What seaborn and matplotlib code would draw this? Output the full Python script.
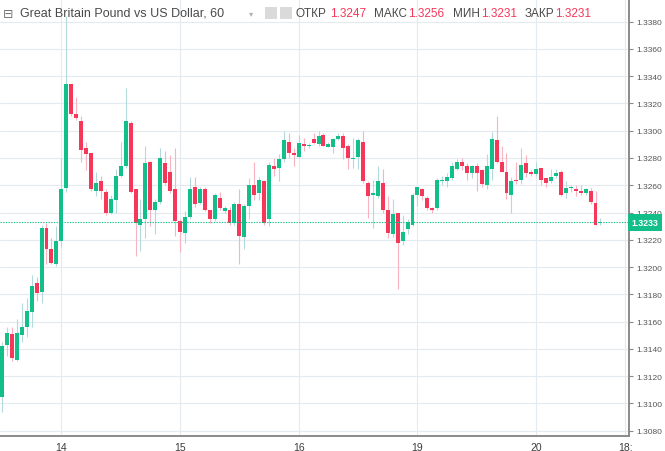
import matplotlib
matplotlib.use("Agg")
import matplotlib.pyplot as plt
import seaborn as sns
import numpy as np
from matplotlib.patches import Rectangle

sns.set_style("white")
plt.rcParams['font.family'] = ['Liberation Sans', 'DejaVu Sans']

# --- hourly GBP/USD candles ---
opens = [1.3105, 1.3143, 1.3151, 1.3132, 1.3150, 1.3156, 1.3167, 1.3188, 1.3182, 1.3229,
         1.3213, 1.3202, 1.3219, 1.3258, 1.3334, 1.3312, 1.3307, 1.3287, 1.3284, 1.3256,
         1.3263, 1.3255, 1.3240, 1.3249, 1.3267, 1.3274, 1.3306, 1.3257, 1.3231, 1.3235,
         1.3277, 1.3242, 1.3248, 1.3276, 1.3270, 1.3257, 1.3234, 1.3225, 1.3237, 1.3259,
         1.3247, 1.3257, 1.3242, 1.3235, 1.3251, 1.3241, 1.3242, 1.3232, 1.3246, 1.3222,
         1.3245, 1.3260, 1.3254, 1.3263, 1.3235, 1.3274, 1.3273, 1.3279, 1.3292, 1.3284,
         1.3281, 1.3290, 1.3289, 1.3294, 1.3290, 1.3297, 1.3288, 1.3288, 1.3294, 1.3296,
         1.3289, 1.3279, 1.3281, 1.3292, 1.3262, 1.3253, 1.3252, 1.3262, 1.3242, 1.3224,
         1.3240, 1.3219, 1.3228, 1.3231, 1.3253, 1.3257, 1.3251, 1.3243, 1.3243, 1.3263,
         1.3263, 1.3265, 1.3272, 1.3277, 1.3274, 1.3269, 1.3274, 1.3271, 1.3260, 1.3272,
         1.3293, 1.3277, 1.3270, 1.3253, 1.3264, 1.3264, 1.3276, 1.3270, 1.3268, 1.3273,
         1.3265, 1.3263, 1.3267, 1.3270, 1.3254, 1.3258, 1.3257, 1.3256, 1.3254, 1.3256,
         1.3247, 1.3232]
highs = [1.3145, 1.3156, 1.3156, 1.3162, 1.3174, 1.3177, 1.3194, 1.3193, 1.3231, 1.3232,
         1.3221, 1.3230, 1.3280, 1.3384, 1.3334, 1.3325, 1.3311, 1.3292, 1.3284, 1.3270,
         1.3267, 1.3257, 1.3253, 1.3272, 1.3292, 1.3331, 1.3307, 1.3257, 1.3250, 1.3289,
         1.3278, 1.3250, 1.3287, 1.3285, 1.3282, 1.3287, 1.3235, 1.3241, 1.3266, 1.3266,
         1.3259, 1.3259, 1.3242, 1.3254, 1.3255, 1.3245, 1.3244, 1.3248, 1.3257, 1.3246,
         1.3265, 1.3277, 1.3266, 1.3264, 1.3277, 1.3280, 1.3283, 1.3300, 1.3298, 1.3287,
         1.3297, 1.3295, 1.3291, 1.3298, 1.3300, 1.3298, 1.3292, 1.3295, 1.3298, 1.3298,
         1.3290, 1.3295, 1.3295, 1.3300, 1.3263, 1.3264, 1.3274, 1.3272, 1.3252, 1.3250,
         1.3240, 1.3238, 1.3235, 1.3254, 1.3259, 1.3258, 1.3252, 1.3244, 1.3265, 1.3267,
         1.3269, 1.3277, 1.3279, 1.3280, 1.3276, 1.3275, 1.3276, 1.3272, 1.3283, 1.3299,
         1.3311, 1.3289, 1.3284, 1.3266, 1.3277, 1.3287, 1.3282, 1.3271, 1.3277, 1.3273,
         1.3265, 1.3272, 1.3272, 1.3271, 1.3263, 1.3260, 1.3260, 1.3260, 1.3258, 1.3258,
         1.3256, 1.3236]
lows = [1.3094, 1.3135, 1.3131, 1.3131, 1.3145, 1.3149, 1.3156, 1.3175, 1.3174, 1.3202,
        1.3202, 1.3201, 1.3215, 1.3255, 1.3311, 1.3308, 1.3277, 1.3271, 1.3256, 1.3252,
        1.3250, 1.3238, 1.3239, 1.3240, 1.3266, 1.3273, 1.3254, 1.3208, 1.3212, 1.3221,
        1.3230, 1.3224, 1.3246, 1.3260, 1.3254, 1.3223, 1.3211, 1.3218, 1.3235, 1.3244,
        1.3246, 1.3241, 1.3232, 1.3234, 1.3242, 1.3240, 1.3231, 1.3231, 1.3202, 1.3213,
        1.3235, 1.3249, 1.3249, 1.3231, 1.3230, 1.3267, 1.3263, 1.3277, 1.3280, 1.3274,
        1.3280, 1.3285, 1.3287, 1.3290, 1.3289, 1.3289, 1.3288, 1.3284, 1.3293, 1.3279,
        1.3272, 1.3273, 1.3272, 1.3262, 1.3236, 1.3229, 1.3251, 1.3240, 1.3221, 1.3222,
        1.3184, 1.3216, 1.3224, 1.3230, 1.3245, 1.3249, 1.3242, 1.3240, 1.3242, 1.3260,
        1.3259, 1.3264, 1.3271, 1.3271, 1.3264, 1.3265, 1.3256, 1.3259, 1.3257, 1.3264,
        1.3276, 1.3270, 1.3250, 1.3240, 1.3261, 1.3261, 1.3266, 1.3267, 1.3267, 1.3260,
        1.3259, 1.3262, 1.3265, 1.3252, 1.3251, 1.3255, 1.3252, 1.3253, 1.3253, 1.3246,
        1.3231, 1.3231]
closes = [1.3142, 1.3152, 1.3133, 1.3152, 1.3156, 1.3168, 1.3186, 1.3181, 1.3229, 1.3213,
          1.3203, 1.3219, 1.3257, 1.3334, 1.3312, 1.3309, 1.3286, 1.3283, 1.3257, 1.3262,
          1.3256, 1.3240, 1.3250, 1.3267, 1.3274, 1.3307, 1.3255, 1.3232, 1.3235, 1.3276,
          1.3242, 1.3248, 1.3280, 1.3262, 1.3256, 1.3234, 1.3226, 1.3237, 1.3257, 1.3246,
          1.3257, 1.3242, 1.3235, 1.3253, 1.3243, 1.3243, 1.3232, 1.3246, 1.3223, 1.3245,
          1.3260, 1.3253, 1.3264, 1.3232, 1.3275, 1.3272, 1.3279, 1.3293, 1.3284, 1.3282,
          1.3291, 1.3289, 1.3289, 1.3291, 1.3296, 1.3289, 1.3290, 1.3294, 1.3296, 1.3287,
          1.3280, 1.3280, 1.3293, 1.3263, 1.3252, 1.3254, 1.3263, 1.3242, 1.3225, 1.3239,
          1.3218, 1.3226, 1.3233, 1.3253, 1.3259, 1.3252, 1.3243, 1.3242, 1.3264, 1.3264,
          1.3266, 1.3274, 1.3277, 1.3274, 1.3269, 1.3274, 1.3269, 1.3261, 1.3274, 1.3294,
          1.3277, 1.3270, 1.3254, 1.3263, 1.3263, 1.3275, 1.3269, 1.3268, 1.3272, 1.3264,
          1.3262, 1.3266, 1.3269, 1.3253, 1.3258, 1.3259, 1.3256, 1.3254, 1.3257, 1.3248,
          1.3231, 1.3233]

day_ticks = [12, 36, 60, 84, 108, 126]
day_labels = ['14', '15', '16', '19', '20', '18:']
price_ticks = [1.3080, 1.3100, 1.3120, 1.3140, 1.3160, 1.3180, 1.3200, 1.3220,
               1.3240, 1.3260, 1.3280, 1.3300, 1.3320, 1.3340, 1.3360, 1.3380]
last_price = 1.3233

title = 'Great Britain Pound vs US Dollar, 60'
ohlc_names = ['ОТКР', 'МАКС', 'МИН', 'ЗАКР']
ohlc_values = ['1.3247', '1.3256', '1.3231', '1.3231']

GREEN = '#12bf88'
RED = '#f5385a'
GREEN_WICK = '#b2d9dc'
RED_WICK = '#f7b3bf'
GRID = '#e4ebf0'
AXIS = '#8a8a8a'
TEXT = '#4a4a4a'

W, H = 665, 452
fig = plt.figure(figsize=(W / 100, H / 100), dpi=100)
ax = fig.add_axes([0, 15 / H, 629 / W, 437 / H])

idx = np.arange(len(opens))
o = np.array(opens)
c = np.array(closes)
up = c >= o
ax.vlines(idx, lows, highs, colors=np.where(up, GREEN_WICK, RED_WICK), linewidth=0.8, zorder=2)
ax.bar(idx, np.maximum(np.abs(c - o), 0.00005), bottom=np.minimum(o, c), width=0.8,
       color=np.where(up, GREEN, RED), linewidth=0, zorder=3)

ax.axhline(last_price, color=GREEN, linestyle=(0, (1.2, 1.2)), linewidth=0.8, zorder=4)

ax.set_xlim(-0.4, 126.77)
ax.set_ylim(1.30761, 1.33966)
ax.set_xticks(day_ticks)
ax.set_xticklabels(day_labels)
ax.set_yticks(price_ticks)
ax.set_yticklabels([f'{p:.4f}' for p in price_ticks])
ax.yaxis.tick_right()
ax.grid(True, color=GRID, linewidth=0.8, zorder=0)
ax.set_axisbelow(True)
for side in ['left', 'top']:
    ax.spines[side].set_visible(False)
for side in ['right', 'bottom']:
    ax.spines[side].set_color(AXIS)
    ax.spines[side].set_linewidth(1.4)
ax.tick_params(axis='y', direction='out', length=3, color=AXIS, labelsize=6,
               labelcolor='#555555', pad=2)
ax.tick_params(axis='x', direction='out', length=3, color=AXIS, labelsize=7.5,
               labelcolor='#3c3c3c', pad=1.5)

# last price tag on the price scale
ax.text(1.004, last_price, '1.3233', transform=ax.get_yaxis_transform(), ha='left',
        va='center', fontsize=6.3, color='white', fontweight='bold', clip_on=False,
        bbox=dict(boxstyle='square,pad=0.45', facecolor=GREEN, edgecolor='none'))

# header line
def fx(px):
    return px / W

hy = 1 - 14 / H
fig.text(fx(3), hy, '⊟', family='DejaVu Sans', fontsize=9, color='#777777', va='center')
fig.text(fx(20), hy, title, fontsize=9, color=TEXT, va='center')
fig.text(fx(249), hy, '▾', family='DejaVu Sans', fontsize=6, color='#b0b0b0', va='center')
for gx in [265, 280]:
    fig.patches.append(Rectangle((fx(gx), 1 - 20 / H), 12 / W, 12 / H, transform=fig.transFigure,
                                 facecolor='#dadada', edgecolor='none'))
name_x = [296, 374, 453, 525]
value_x = [330, 408, 481, 555]
for nx, vx, name, val in zip(name_x, value_x, ohlc_names, ohlc_values):
    fig.text(fx(nx), hy, name, fontsize=8.5, color=TEXT, va='center')
    fig.text(fx(vx), hy, val, fontsize=8.5, color=RED, va='center')

fig.savefig('out.png', dpi=100)
